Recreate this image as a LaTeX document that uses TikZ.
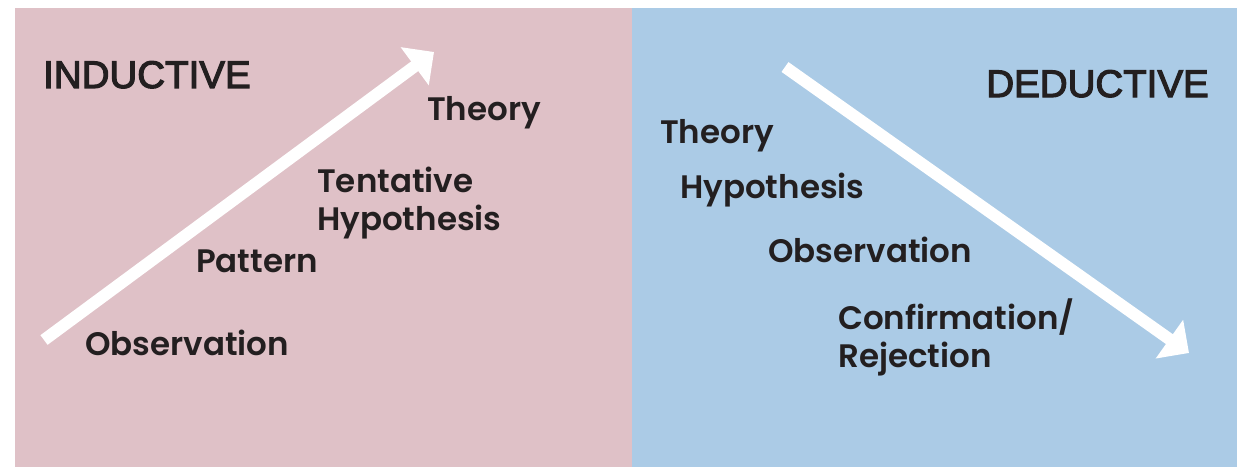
\documentclass[tikz,border=0pt]{standalone}
\usepackage{fontspec}
\setmainfont{Liberation Sans}
\newfontfamily\labfont{Poppins SemiBold}
\newfontfamily\titlefont{Liberation Sans}[FakeBold=3]
\usetikzlibrary{arrows.meta}
\definecolor{pinkbg}{HTML}{DFC1C7}
\definecolor{bluebg}{HTML}{ABCBE6}
\definecolor{ink}{HTML}{231F20}
\tikzset{
  lab/.style={anchor=base west, inner sep=0pt, text=ink, font=\labfont\fontsize{32.5}{38}\selectfont, align=left},
  title/.style={inner sep=0pt, text=ink, font=\titlefont\fontsize{38.5}{44}\selectfont},
  bigarrow/.style={draw=white, line width=12pt, -{Triangle[length=24pt,width=46pt]}}
}
\begin{document}
\begin{tikzpicture}[x=1pt,y=1pt]
\useasboundingbox (0,0) rectangle (1237,467);
\fill[white] (0,0) rectangle (1237,467);
\fill[pinkbg] (15,0) rectangle (632,459);
\fill[bluebg] (632,0) rectangle (1237,459);
% arrows
\coordinate (istart) at (44,127);
\coordinate (iend) at (434,415);
\coordinate (dstart) at (785,400);
\coordinate (dend) at (1189,114);
\draw[bigarrow] (istart) -- (iend);
\draw[bigarrow] (dstart) -- (dend);
% titles
\node[title, anchor=base west] (ind) at (43,379) {INDUCTIVE};
\node[title, anchor=base east] (ded) at (1209,370) {DEDUCTIVE};
% inductive labels
\node[lab] (ithe) at (427,347) {Theory};
\node[lab] (itent) at (317,237) {Tentative\\Hypothesis};
\node[lab] (ipat) at (196,195) {Pattern};
\node[lab] (iobs) at (85,112) {Observation};
% deductive labels
\node[lab] (dthe) at (660,324) {Theory};
\node[lab] (dhyp) at (680,269) {Hypothesis};
\node[lab] (dobs) at (768,205) {Observation};
\node[lab] (dcon) at (838,100) {Confirmation/\\Rejection};
\end{tikzpicture}
\end{document}
